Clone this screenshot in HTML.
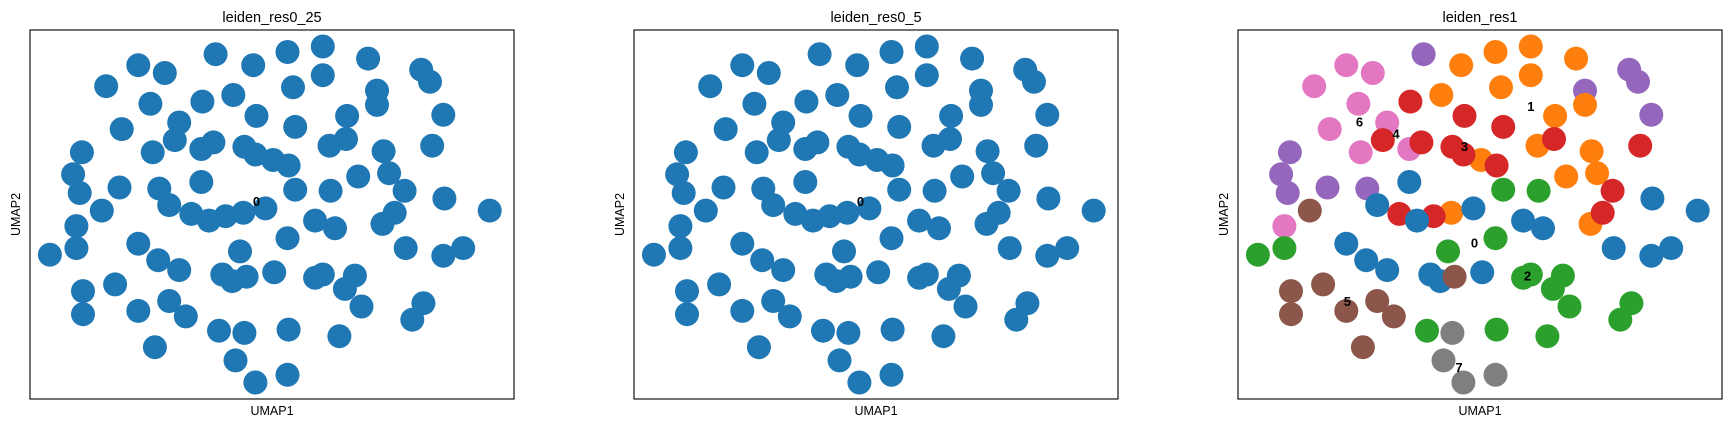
<!DOCTYPE html>
<html><head><meta charset="utf-8"><style>
html,body{margin:0;padding:0;background:#fff;}
svg{display:block;font-family:"Liberation Sans","DejaVu Sans",sans-serif;}
</style></head><body>
<svg id="fig" width="1731" height="429" viewBox="0 0 1731 429"></svg>
<script>
// data in UMAP units (0..438 horizontal, 0..335 vertical, top = 0), grouped by res1 cluster
const umap1 = [
  168,314,354,362,374,47,39,45,81,117,
  98,122,69,109,135,83,111,155,42,
  202,233,265,265,238,306,184,287,314,271,320,297,325,220,319,193,
  156,205,240,131,166,194,204,234,286,364,339,330,146,177,
  155,375,416,126,162,213,258,276,98,116,135,174,183,221,340,374,392,
  240,272,18,42,190,233,265,258,294,285,300,356,346,171,234,280,
  65,196,48,77,126,48,98,141,113,
  194,186,204,233];
const umap2 = [
  22,55,36,47,77,111,131,148,143,144,
  32,39,51,67,84,90,111,108,178,
  32,20,15,41,52,26,59,78,68,105,110,133,130,118,176,166,
  65,78,88,100,102,106,113,123,99,105,146,166,167,169,
  138,153,164,159,173,162,173,180,194,209,218,222,228,220,198,205,198,
  145,146,204,198,201,189,222,225,223,235,251,248,263,273,272,278,
  164,224,237,231,246,258,255,260,288,
  275,300,320,313];
const clusterRes1 = [
  4,4,4,4,4,4,4,4,4,4,
  6,6,6,6,6,6,6,6,6,
  1,1,1,1,1,1,1,1,1,1,1,1,1,1,1,1,
  3,3,3,3,3,3,3,3,3,3,3,3,3,3,
  0,0,0,0,0,0,0,0,0,0,0,0,0,0,0,0,0,
  2,2,2,2,2,2,2,2,2,2,2,2,2,2,2,2,
  5,5,5,5,5,5,5,5,5,
  7,7,7,7];
const labelNames = ["0","1","2","3","4","5","6","7"];
const labelU1 = [214,265,262,205,143,99,110,200];
const labelU2 = [194,70,224,106,95,247,84,307];
const singleLabelU1 = 205, singleLabelU2 = 156;
const palette = ["#1f77b4","#ff7f0e","#2ca02c","#d62728","#9467bd","#8c564b","#e377c2","#7f7f7f"];
const titles = ["leiden_res0_25","leiden_res0_5","leiden_res1"];
const panelLeft = [30,634,1238];
const boxTop = 30, boxW = 484, boxH = 369;
const NS = "http://www.w3.org/2000/svg";
const svg = document.getElementById('fig');
function mk(tag, attrs){const e=document.createElementNS(NS,tag);for(const k in attrs)e.setAttribute(k,attrs[k]);return e;}
function xScale(p,v){return panelLeft[p] + v*boxW/438;}
function yScale(v){return boxTop + v*boxH/335;}
const n = Math.min(umap1.length, umap2.length, clusterRes1.length);
for(let p=0;p<3;p++){
  const g = mk('g',{});
  
  
  svg.appendChild(g);
  const t = mk('text',{x:panelLeft[p]+boxW/2,y:22,'text-anchor':'middle','font-size':'14.5',fill:'#000'});
  t.textContent = titles[p];
  
  
  g.appendChild(t);
  for(let i=0;i<n;i++){
    const col = p===2 ? palette[clusterRes1[i]] : palette[0];
    const c = mk('circle',{cx:xScale(p,umap1[i]).toFixed(1),cy:yScale(umap2[i]).toFixed(1),r:12,fill:col});
    
    
    g.appendChild(c);
  }
  if(p<2){
    const l = mk('text',{x:xScale(p,singleLabelU1),y:yScale(singleLabelU2)+4,'text-anchor':'middle','font-size':'13','font-weight':'bold',fill:'#000'});
    l.textContent = "0";
    
    
    g.appendChild(l);
  } else {
    for(let k=0;k<labelNames.length;k++){
      const l = mk('text',{x:xScale(p,labelU1[k]),y:yScale(labelU2[k])+4,'text-anchor':'middle','font-size':'13','font-weight':'bold',fill:'#000'});
      l.textContent = labelNames[k];
      
      
      g.appendChild(l);
    }
  }
  const box = mk('rect',{x:panelLeft[p],y:boxTop,width:boxW,height:boxH,fill:'none',stroke:'#000','stroke-width':1.1});
  
  
  g.appendChild(box);
  const xl = mk('text',{x:panelLeft[p]+boxW/2,y:415,'text-anchor':'middle','font-size':'12.5',fill:'#000'});
  xl.textContent = "UMAP1";
  
  
  g.appendChild(xl);
  const yx = panelLeft[p]-10, yy = boxTop+boxH/2;
  const yl = mk('text',{x:yx,y:yy,'text-anchor':'middle','font-size':'12.5',fill:'#000',transform:'rotate(-90 '+yx+' '+yy+')'});
  yl.textContent = "UMAP2";
  
  
  g.appendChild(yl);
}
</script>
</body></html>
